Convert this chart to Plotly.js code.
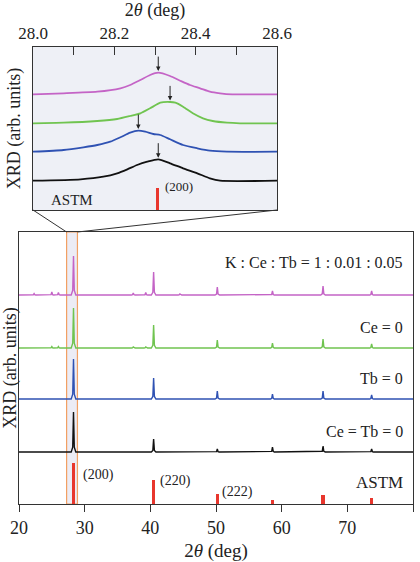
<!DOCTYPE html>
<html>
<head>
<meta charset="utf-8">
<script src="https://cdn.plot.ly/plotly-3.0.1.min.js"></script>
<style>
  html, body { margin: 0; padding: 0; background: #ffffff; }
  #chart { width: 420px; height: 562px; }
</style>
</head>
<body>
<div id="chart"></div>
<script>
// ---- Full-range patterns (2θ = 20–80°) ----
const reflections = [28.3, 40.5, 50.2, 58.6, 66.3, 73.7];
const reflectionLabels = ['(200)', '(220)', '(222)'];

const heightsKCeTb = [39, 23, 8, 4, 9, 4];
const heightsCe0   = [40, 23, 8, 5, 9, 4];
const heightsTb0   = [40, 21, 8, 5, 8, 4];
const heightsCeTb0 = [40, 13, 3, 5, 6, 3];
const heightsASTM  = [41, 24, 10, 4, 9, 6];

// weak extra reflections seen in the doped samples
const minorKCeTb = [[22.3, 1.5], [25.0, 3], [26.0, 2.5], [37.4, 2], [39.3, 2.5], [44.5, 1]];
const minorCe0   = [[25.0, 1.5], [26.0, 1.5], [37.4, 1], [39.3, 1]];

const sampleNames = ['K : Ce : Tb = 1 : 0.01 : 0.05', 'Ce = 0', 'Tb = 0', 'Ce = Tb = 0'];

// ---- Zoom on the (200) reflection (2θ = 28.0–28.6°) ----
const zoomX_KCeTb = [28.00, 28.075, 28.158, 28.215, 28.239, 28.264, 28.288, 28.308, 28.337, 28.362, 28.386, 28.411, 28.435, 28.46, 28.49, 28.60];
const zoomY_KCeTb = [0, 1, 2.6, 6, 9.3, 14.3, 19.3, 21.6, 18.3, 13.6, 9.3, 6, 2.6, 1, 0, 0];

const zoomX_Ce0 = [28.00, 28.075, 28.158, 28.207, 28.239, 28.264, 28.288, 28.313, 28.337, 28.35, 28.369, 28.393, 28.418, 28.442, 28.477, 28.509, 28.60];
const zoomY_Ce0 = [0, 0.6, 2.3, 4.3, 7.3, 10, 15, 20.6, 21.3, 20.6, 16.6, 10, 5, 2.3, 0.6, 0, 0];

const zoomX_Tb0 = [28.00, 28.075, 28.124, 28.158, 28.19, 28.215, 28.239, 28.259, 28.276, 28.296, 28.313, 28.337, 28.369, 28.404, 28.435, 28.477, 28.60];
const zoomY_Tb0 = [0, 1.7, 4.4, 6.7, 10, 14.4, 19, 21, 20, 17.7, 16.7, 12.4, 6.7, 3.4, 1, 0, 0];

const zoomX_CeTb0 = [28.00, 28.117, 28.173, 28.207, 28.232, 28.256, 28.281, 28.308, 28.337, 28.369, 28.404, 28.435, 28.46, 28.60];
const zoomY_CeTb0 = [0, 1.4, 4, 7.4, 11.4, 15.7, 19, 21.4, 17.4, 12.4, 7.4, 2.4, 0, 0];

const zoomASTMpos = [28.305];
const zoomASTMheight = [22.5];

// ---- styling / stacking ----
const FONT = '"Liberation Serif", "Times New Roman", Times, serif';
const COLORS = ['#c464c6', '#70c450', '#2f52b3', '#111111'];
const RED = '#e8362d';
const ORANGE = '#f2a063';
const AXIS = '#333333';
const mainOffsets = [209, 156, 105, 52];     // stacking of the full patterns
const zoomOffsets = [115.7, 86.7, 58.3, 29.3]; // stacking in the zoom panel
const bandRange = [27.25, 28.9];              // region shown in the zoom panel

const mainDomX = [19 / 420, 413 / 420];
const mainDomY = [1 - 504 / 562, 1 - 232 / 562];
const zoomDomX = [33 / 420, 277 / 420];
const zoomDomY = [1 - 210 / 562, 1 - 47 / 562];
const mainRangeX = [20, 80];
const zoomRangeX = [28.0, 28.6];

// narrow spike profile for each reflection of a full-range pattern
function pattern(positions, heights, minor, base) {
  const peaks = positions.map((p, i) => [p, heights[i]]).concat(minor || []);
  peaks.sort((a, b) => a[0] - b[0]);
  const x = [mainRangeX[0]], y = [base];
  peaks.forEach(([p, h]) => {
    const w = h > 5 ? 0.35 : 0.28;
    x.push(p - w, p - 0.12, p, p + 0.12, p + w);
    y.push(base, base + h * 0.12, base + h, base + h * 0.12, base);
  });
  x.push(mainRangeX[1]); y.push(base);
  return { x, y };
}

const mainHeights = [heightsKCeTb, heightsCe0, heightsTb0, heightsCeTb0];
const mainMinor = [minorKCeTb, minorCe0, [], []];
const traces = [];

mainHeights.forEach((h, i) => {
  const p = pattern(reflections, h, mainMinor[i], mainOffsets[i]);
  traces.push({
    type: 'scatter', mode: 'lines', x: p.x, y: p.y, xaxis: 'x', yaxis: 'y',
    line: { color: COLORS[i], width: 1.4 }, name: sampleNames[i],
    hoverinfo: 'skip', showlegend: false
  });
});

traces.push({
  type: 'bar', x: reflections, y: heightsASTM, base: 0, width: 0.5,
  xaxis: 'x', yaxis: 'y', marker: { color: RED, line: { width: 0 } },
  name: 'ASTM', showlegend: false, hoverinfo: 'skip'
});

const zoomXs = [zoomX_KCeTb, zoomX_Ce0, zoomX_Tb0, zoomX_CeTb0];
const zoomYs = [zoomY_KCeTb, zoomY_Ce0, zoomY_Tb0, zoomY_CeTb0];
zoomXs.forEach((xs, i) => {
  traces.push({
    type: 'scatter', mode: 'lines', x: xs, y: zoomYs[i].map(v => v + zoomOffsets[i]),
    xaxis: 'x2', yaxis: 'y2', line: { color: COLORS[i], width: 1.8, shape: 'spline', smoothing: 0.6 },
    hoverinfo: 'skip', showlegend: false
  });
});

traces.push({
  type: 'bar', x: zoomASTMpos, y: zoomASTMheight, base: 0, width: 0.0075,
  xaxis: 'x2', yaxis: 'y2', marker: { color: RED, line: { width: 0 } },
  showlegend: false, hoverinfo: 'skip'
});

// ---- annotations ----
const annotations = [];
const labelGaps = [33, 21, 21, 21];
sampleNames.forEach((t, i) => {
  annotations.push({
    xref: 'x', yref: 'y', x: 78.8, y: mainOffsets[i] + labelGaps[i], text: t,
    showarrow: false, xanchor: 'right', yanchor: 'middle',
    font: { family: FONT, size: 16, color: '#222' }
  });
});
annotations.push({
  xref: 'x', yref: 'y', x: 78.8, y: 22, text: 'ASTM', showarrow: false,
  xanchor: 'right', yanchor: 'middle', font: { family: FONT, size: 17, color: '#222' }
});
const hklShift = [[7, -12], [4, -1], [3, 2]];
reflectionLabels.forEach((t, i) => {
  annotations.push({
    xref: 'x', yref: 'y', x: reflections[i], y: heightsASTM[i], text: t, showarrow: false,
    xanchor: 'left', yanchor: 'middle', xshift: hklShift[i][0], yshift: hklShift[i][1],
    font: { family: FONT, size: 14, color: '#222' }
  });
});

// arrows marking the (200) maximum of each zoomed curve
zoomYs.forEach((ys, i) => {
  let k = 0;
  ys.forEach((v, j) => { if (v > ys[k]) k = j; });
  annotations.push({
    xref: 'x2', yref: 'y2', x: zoomXs[i][k], y: ys[k] + zoomOffsets[i] + 1.6,
    ax: 0, ay: -16, text: '', showarrow: true, arrowhead: 2, arrowsize: 0.9,
    arrowwidth: 1, arrowcolor: '#222'
  });
});
annotations.push({
  xref: 'x2', yref: 'y2', x: zoomASTMpos[0], y: zoomASTMheight[0], text: reflectionLabels[0],
  showarrow: false, xanchor: 'left', yanchor: 'middle', xshift: 6, yshift: 1,
  font: { family: FONT, size: 13, color: '#222' }
});
annotations.push({
  xref: 'x2', yref: 'y2', x: 28.04, y: 10, text: 'ASTM', showarrow: false,
  xanchor: 'left', yanchor: 'middle', font: { family: FONT, size: 15, color: '#222' }
});

// ---- shapes: zoom-panel background, highlighted window, connectors ----
const toPaperX = v => mainDomX[0] + (v - mainRangeX[0]) / (mainRangeX[1] - mainRangeX[0]) * (mainDomX[1] - mainDomX[0]);
const shapes = [
  { type: 'rect', xref: 'x2 domain', yref: 'y2 domain', x0: 0, x1: 1, y0: 0, y1: 1,
    fillcolor: '#eef0f6', line: { width: 0 }, layer: 'below' },
  { type: 'rect', xref: 'x', yref: 'y domain', x0: bandRange[0], x1: bandRange[1], y0: 0, y1: 1,
    fillcolor: '#ececf5', line: { color: ORANGE, width: 1.2 }, layer: 'below' },
  { type: 'line', xref: 'paper', yref: 'paper', x0: zoomDomX[0], y0: zoomDomY[0],
    x1: toPaperX(bandRange[0]), y1: mainDomY[1], line: { color: AXIS, width: 1 } },
  { type: 'line', xref: 'paper', yref: 'paper', x0: zoomDomX[1], y0: zoomDomY[0],
    x1: toPaperX(bandRange[1]), y1: mainDomY[1], line: { color: AXIS, width: 1 } }
];

const tickFont = { family: FONT, size: 17, color: '#222' };
const mainTickFont = { family: FONT, size: 18, color: '#222' };
const titleFont = { family: FONT, size: 18, color: '#222' };
const zoomTicks = [28.0, 28.1, 28.2, 28.3, 28.4, 28.5, 28.6];

const layout = {
  width: 420, height: 562,
  margin: { l: 0, r: 0, t: 0, b: 0 },
  paper_bgcolor: '#ffffff', plot_bgcolor: '#ffffff',
  font: { family: FONT },
  showlegend: false, bargap: 0,
  xaxis: {
    domain: mainDomX, anchor: 'y', range: mainRangeX,
    tickvals: [20, 30, 40, 50, 60, 70, 80], ticks: 'outside', ticklen: 7, tickcolor: AXIS,
    showline: true, linecolor: AXIS, linewidth: 1, mirror: true,
    showgrid: false, zeroline: false, tickfont: mainTickFont,
    title: { text: '2<i>θ</i> (deg)', font: { family: FONT, size: 19, color: '#222' }, standoff: 7 }
  },
  xaxis3: {
    overlaying: 'x', anchor: 'y', side: 'top', range: mainRangeX,
    tickvals: [30, 40, 50, 60, 70], ticks: 'inside', ticklen: 7, tickcolor: AXIS,
    showticklabels: false, showline: false, showgrid: false, zeroline: false
  },
  yaxis: {
    domain: mainDomY, anchor: 'x', range: [0, 272],
    showline: true, linecolor: AXIS, linewidth: 1, mirror: true,
    ticks: '', showticklabels: false, showgrid: false, zeroline: false,
    title: { text: 'XRD (arb. units)', font: titleFont, standoff: 2 }
  },
  xaxis2: {
    domain: zoomDomX, anchor: 'y2', side: 'top', range: zoomRangeX,
    tickvals: zoomTicks, ticktext: zoomTicks.map((v, i) => i % 2 === 0 ? v.toFixed(1) : ''),
    ticks: 'inside', ticklen: 8, tickcolor: AXIS,
    showline: true, linecolor: AXIS, linewidth: 1, mirror: true,
    showgrid: false, zeroline: false, tickfont: tickFont,
    title: { text: '2<i>θ</i> (deg)', font: titleFont, standoff: 6 }
  },
  xaxis4: {
    overlaying: 'x2', anchor: 'y2', side: 'bottom', range: zoomRangeX,
    tickvals: zoomTicks.slice(1, -1), ticks: 'outside', ticklen: 7, tickcolor: AXIS,
    showticklabels: false, showline: false, showgrid: false, zeroline: false
  },
  yaxis2: {
    domain: zoomDomY, anchor: 'x2', range: [0, 163],
    showline: true, linecolor: AXIS, linewidth: 1, mirror: true,
    ticks: '', showticklabels: false, showgrid: false, zeroline: false,
    title: { text: 'XRD (arb. units)', font: titleFont, standoff: 6 }
  },
  annotations: annotations,
  shapes: shapes
};

Plotly.newPlot('chart', traces, layout, { staticPlot: true, displayModeBar: false });
</script>
</body>
</html>
